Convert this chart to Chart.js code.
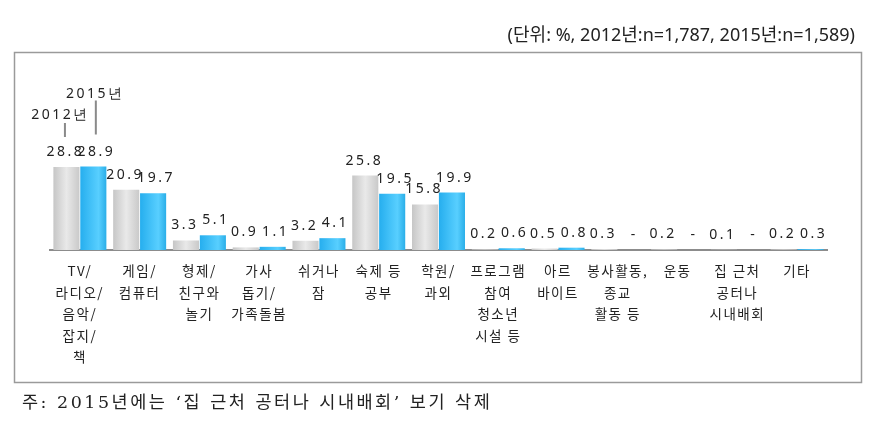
<!DOCTYPE html>
<html>
<head>
<meta charset="utf-8">
<script src="https://cdn.jsdelivr.net/npm/chart.js@4.4.1/dist/chart.umd.min.js"></script>
<style>
  html, body { margin: 0; padding: 0; background: #fff; }
  #wrap { width: 875px; height: 421px; position: relative; }
</style>
</head>
<body>
<div id="wrap"><canvas id="myChart" width="875" height="421"></canvas></div>
<script>
// --- Data ---
const categories = [
  ['TV/', '라디오/', '음악/', '잡지/', '책'],
  ['게임/', '컴퓨터'],
  ['형제/', '친구와', '놀기'],
  ['가사', '돕기/', '가족돌봄'],
  ['쉬거나', '잠'],
  ['숙제 등', '공부'],
  ['학원/', '과외'],
  ['프로그램', '참여', '청소년', '시설 등'],
  ['아르', '바이트'],
  ['봉사활동,', '종교', '활동 등'],
  ['운동'],
  ['집 근처', '공터나', '시내배회'],
  ['기타']
];
const seriesNames = ['2012년', '2015년'];
const values2012 = [28.8, 20.9, 3.3, 0.9, 3.2, 25.8, 15.8, 0.2, 0.5, 0.3, 0.2, 0.1, 0.2];
const values2015 = [28.9, 19.7, 5.1, 1.1, 4.1, 19.5, 19.9, 0.6, 0.8, null, null, null, 0.3];

const unitText = '(단위: %, 2012년:n=1,787, 2015년:n=1,589)';
const noteText = '주: 2015년에는 \u2018집 근처 공터나 시내배회\u2019 보기 삭제';

// --- gradient fill per bar ---
function barGradient(ctx, bar, stops) {
  const g = ctx.createLinearGradient(bar.x - bar.width / 2, 0, bar.x + bar.width / 2, 0);
  stops.forEach(s => g.addColorStop(s[0], s[1]));
  return g;
}
const grayStops = [[0, '#c6c6c6'], [0.5, '#e9e9e9'], [1, '#c9c9c9']];
const blueStops = [[0, '#26aeee'], [0.7, '#58cfff'], [1, '#2aaee8']];

const framePlugin = {
  id: 'frame',
  beforeDraw(chart) {
    const ctx = chart.ctx;
    ctx.save();
    ctx.strokeStyle = '#9a9a9a';
    ctx.lineWidth = 1.5;
    ctx.strokeRect(14.5, 52.5, 847, 330);
    ctx.fillStyle = '#222';
    ctx.font = '18px "Noto Sans", "Noto Sans CJK KR", sans-serif';
    ctx.textAlign = 'right';
    ctx.textBaseline = 'middle';
    ctx.fillText(unitText, 855, 36);
    ctx.textAlign = 'left';
    ctx.letterSpacing = '2.5px';
    ctx.font = '17.5px "DejaVu Serif", "Liberation Serif", "Noto Sans CJK KR", serif';
    ctx.fillText(noteText, 22, 403);
    ctx.restore();
    ctx.letterSpacing = '1.5px';
  },
  beforeDatasetDraw(chart, args) {
    const stops = args.index === 0 ? grayStops : blueStops;
    args.meta.data.forEach(bar => {
      bar.options = Object.assign({}, bar.options, { backgroundColor: barGradient(chart.ctx, bar, stops) });
    });
  },
  afterDatasetsDraw(chart) {
    const ctx = chart.ctx;
    const base = chart.scales.y.getPixelForValue(0);
    ctx.save();
    ctx.letterSpacing = '2.5px';
    ctx.font = '14px "Noto Sans", "DejaVu Sans", sans-serif';
    ctx.fillStyle = '#222';
    ctx.textAlign = 'center';
    ctx.textBaseline = 'middle';
    chart.data.datasets.forEach((ds, di) => {
      const shift = di === 0 ? -1 : 3;
      chart.getDatasetMeta(di).data.forEach((bar, i) => {
        const v = ds.data[i];
        const top = v == null ? base : bar.y;
        ctx.fillText(v == null ? '-' : v.toFixed(1), bar.x + shift, top - 15);
      });
    });

    // series call-outs over the first group
    const b0 = chart.getDatasetMeta(0).data[0];
    const b1 = chart.getDatasetMeta(1).data[0];
    ctx.strokeStyle = '#8a8a8a';
    ctx.lineWidth = 2;
    ctx.beginPath();
    ctx.moveTo(b0.x - 1.5, b0.y - 44);
    ctx.lineTo(b0.x - 1.5, b0.y - 30);
    ctx.moveTo(b1.x + 2.5, b1.y - 66);
    ctx.lineTo(b1.x + 2.5, b1.y - 32);
    ctx.stroke();
    ctx.fillText(seriesNames[0], b0.x - 6, b0.y - 52);
    ctx.fillText(seriesNames[1], b1.x + 2, b1.y - 73);
    ctx.restore();
  }
};

const ctx = document.getElementById('myChart').getContext('2d');
const chart = new Chart(ctx, {
  type: 'bar',
  data: {
    labels: categories,
    datasets: [
      { label: seriesNames[0], data: values2012, backgroundColor: '#d8d8d8' },
      { label: seriesNames[1], data: values2015, backgroundColor: '#3dbff7' }
    ]
  },
  options: {
    responsive: false,
    animation: false,
    events: [],
    categoryPercentage: 0.9,
    barPercentage: 0.97,
    layout: { padding: { top: 149, left: 50, right: 48, bottom: 0 } },
    scales: {
      y: { display: false, min: 0, max: 35 },
      x: {
        grid: { display: false, drawTicks: false },
        border: { display: true, color: '#8c8c8c', width: 2 },
        ticks: {
          color: '#222',
          padding: 10,
          maxRotation: 0,
          autoSkip: false,
          font: { size: 13.5, family: '"Noto Sans CJK KR", sans-serif', lineHeight: 1.6 }
        },
        afterFit(scale) { scale.height = 171; }
      }
    },
    plugins: {
      legend: { display: false },
      tooltip: { enabled: false }
    }
  },
  plugins: [framePlugin]
});
</script>
</body>
</html>
